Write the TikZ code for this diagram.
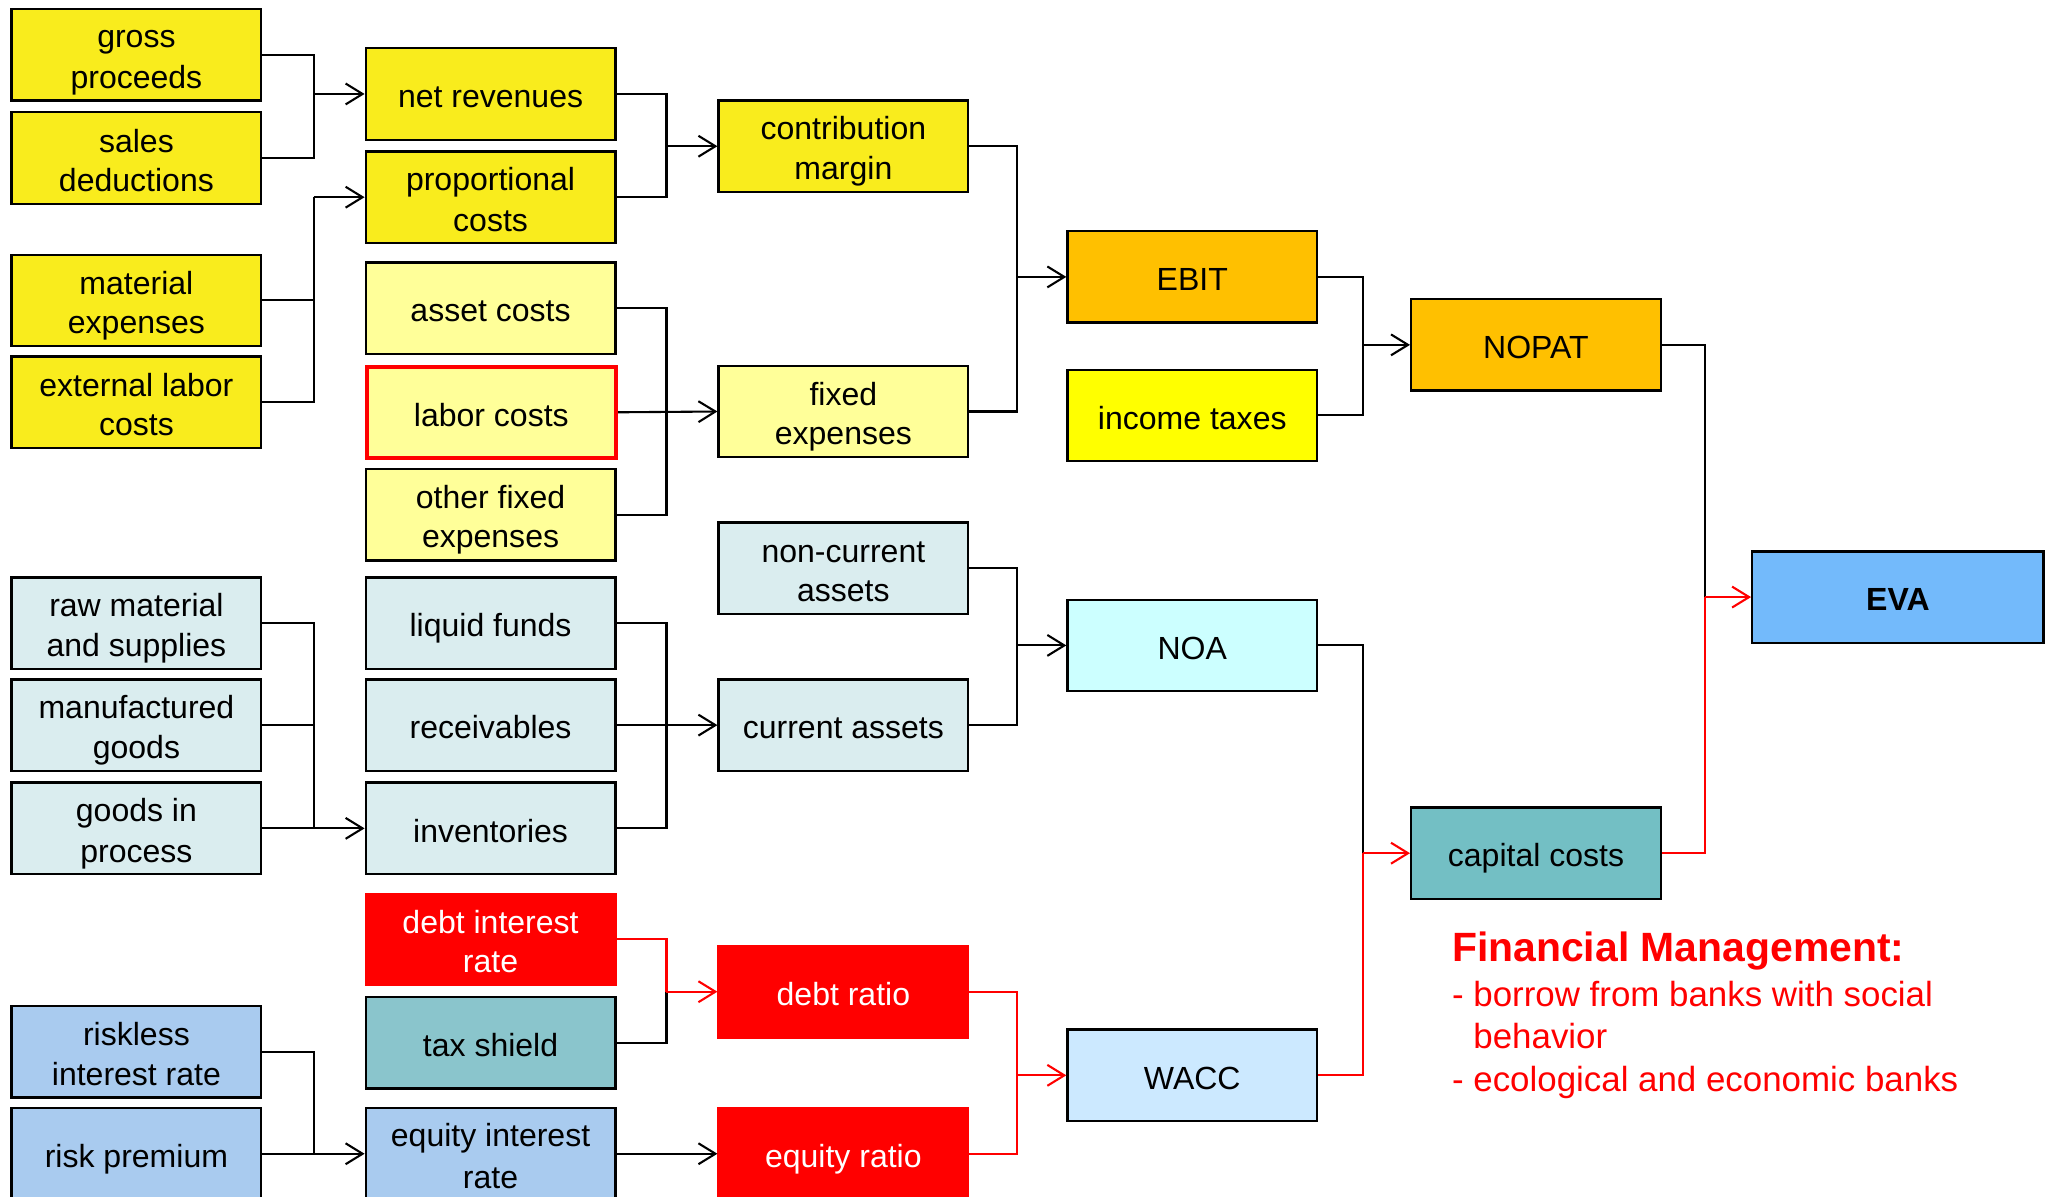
\documentclass[tikz,border=0pt]{standalone}
\usepackage{fontspec}
\setmainfont{Liberation Sans}
\usetikzlibrary{arrows.meta,calc}

\definecolor{yel}{HTML}{F9EC1D}
\definecolor{lyel}{HTML}{FFFF99}
\definecolor{orng}{HTML}{FFC000}
\definecolor{ylw}{HTML}{FFFF00}
\definecolor{gblue}{HTML}{DAEDEF}
\definecolor{cyanl}{HTML}{CCFFFF}
\definecolor{waccb}{HTML}{CCE9FF}
\definecolor{capc}{HTML}{73BFC4}
\definecolor{taxs}{HTML}{8AC5CC}
\definecolor{sky}{HTML}{A9CBEF}
\definecolor{evab}{HTML}{73BAFB}
\definecolor{fmred}{HTML}{FF0000}

% fixed line height for box texts, so one- and two-line labels sit alike
\newcommand{\lblstrut}{\rule[-4.5pt]{0pt}{30pt}}
\newcommand{\lbl}[1]{\lblstrut#1\lblstrut}
\newcommand{\lbltwo}[2]{\lblstrut#1\\#2\lblstrut}

\tikzset{
  box/.style={draw=black, line width=1.8pt, anchor=north west,
    minimum width=191pt, minimum height=70pt, inner sep=0pt, align=center,
    font=\fontsize{24.5pt}{30pt}\selectfont},
  redbox/.style={box, draw=fmred, fill=fmred, text=white},
  conn/.style={line width=1.6pt, draw=black},
  rconn/.style={line width=1.6pt, draw=fmred},
  arr/.style={conn, -{Straight Barb[length=13pt,width=16pt,line width=1.6pt]}},
  rarr/.style={rconn, -{Straight Barb[length=13pt,width=16pt,line width=1.6pt]}},
  note/.style={anchor=base west, text=fmred, inner sep=0pt,
    font=\fontsize{26.7pt}{33pt}\selectfont},
}

\begin{document}
\begin{tikzpicture}[x=1pt,y=-1pt]
\useasboundingbox (0,0) rectangle (1568,916);

% first column: inputs
\node[box, fill=yel]   (gp)  at (8,6)   {\lbltwo{gross}{proceeds}};
\node[box, fill=yel]   (sd)  at (8,85)  {\lbltwo{sales}{deductions}};
\node[box, fill=yel]   (me)  at (8,194) {\lbltwo{material}{expenses}};
\node[box, fill=yel]   (el)  at (8,272) {\lbltwo{external labor}{costs}};
\node[box, fill=gblue] (rm)  at (8,441) {\lbltwo{raw material}{and supplies}};
\node[box, fill=gblue] (mg)  at (8,519) {\lbltwo{manufactured}{goods}};
\node[box, fill=gblue] (gip) at (8,598) {\lbltwo{goods in}{process}};
\node[box, fill=sky]   (rir) at (8,769) {\lbltwo{riskless}{interest rate}};
\node[box, fill=sky]   (rp)  at (8,847) {\lbl{risk premium}};

% second column
\node[box, fill=yel]   (nr)  at (279,36)  {\lbl{net revenues}};
\node[box, fill=yel]   (pc)  at (279,115) {\lbltwo{proportional}{costs}};
\node[box, fill=lyel]  (ac)  at (279,200) {\lbl{asset costs}};
\node[box, fill=lyel, draw=fmred, line width=3pt] (lc) at (279,279) {\lbl{labor costs}};
\node[box, fill=lyel]  (ofe) at (279,358) {\lbltwo{other fixed}{expenses}};
\node[box, fill=gblue] (lf)  at (279,441) {\lbl{liquid funds}};
\node[box, fill=gblue] (rc)  at (279,519) {\lbl{receivables}};
\node[box, fill=gblue] (inv) at (279,598) {\lbl{inventories}};
\node[redbox]          (dir) at (279,683) {\lbltwo{debt interest}{rate}};
\node[box, fill=taxs]  (ts)  at (279,762) {\lbl{tax shield}};
\node[box, fill=sky]   (eir) at (279,847) {\lbltwo{equity interest}{rate}};

% third column
\node[box, fill=yel]   (cm)  at (549,76)  {\lbltwo{contribution}{margin}};
\node[box, fill=lyel]  (fe)  at (549,279) {\lbltwo{fixed}{expenses}};
\node[box, fill=gblue] (nca) at (549,399) {\lbltwo{non-current}{assets}};
\node[box, fill=gblue] (ca)  at (549,519) {\lbl{current assets}};
\node[redbox]          (dr)  at (549,723) {\lbl{debt ratio}};
\node[redbox]          (er)  at (549,847) {\lbl{equity ratio}};

% fourth column
\node[box, fill=orng]  (ebit) at (816,176) {\lbl{EBIT}};
\node[box, fill=ylw]   (it)   at (816,282) {\lbl{income taxes}};
\node[box, fill=cyanl] (noa)  at (816,458) {\lbl{NOA}};
\node[box, fill=waccb] (wacc) at (816,787) {\lbl{WACC}};

% fifth column
\node[box, fill=orng]  (nopat) at (1079,228) {\lbl{NOPAT}};
\node[box, fill=capc]  (cc)    at (1079,617) {\lbl{capital costs}};

% result
\node[box, fill=evab, minimum width=223pt, font=\fontsize{24.5pt}{30pt}\selectfont\bfseries] (eva) at (1340,421) {\lbl{EVA}};

% junction points in front of each target box
\path (nr.west)    ++(-39,0) coordinate (jnr);
\path (pc.west)    ++(-39,0) coordinate (jpc);
\path (inv.west)   ++(-39,0) coordinate (jinv);
\path (eir.west)   ++(-39,0) coordinate (jeir);
\path (cm.west)    ++(-39,0) coordinate (jcm);
\path (fe.west)    ++(-39,0) coordinate (jfe);
\path (ca.west)    ++(-39,0) coordinate (jca);
\path (dr.west)    ++(-39,0) coordinate (jdr);
\path (ebit.west)  ++(-38,0) coordinate (jebit);
\path (noa.west)   ++(-38,0) coordinate (jnoa);
\path (wacc.west)  ++(-38,0) coordinate (jwacc);
\path (nopat.west) ++(-36,0) coordinate (jnopat);
\path (cc.west)    ++(-36,0) coordinate (jcc);
\path (eva.west)   ++(-35,0) coordinate (jeva);

% net revenues
\draw[conn] (gp.east) -| (jnr);
\draw[conn] (sd.east) -| (jnr);
\draw[arr] (jnr) -- (nr.west);
% proportional costs
\draw[conn] (me.east) -| (jpc);
\draw[conn] (el.east) -| (jpc);
\draw[arr] (jpc) -- (pc.west);
% inventories
\draw[conn] (rm.east) -| (jinv);
\draw[conn] (mg.east) -| (jinv);
\draw[arr] (gip.east) -- (inv.west);
% equity interest rate
\draw[conn] (rir.east) -| (jeir);
\draw[arr] (rp.east) -- (eir.west);
% contribution margin
\draw[conn] (nr.east) -| (jcm);
\draw[conn] (pc.east) -| (jcm);
\draw[arr] (jcm) -- (cm.west);
% fixed expenses
\draw[conn] (ac.east) -| (jfe);
\draw[conn] (ofe.east) -| (jfe);
\draw[arr] (lc.east) -- (fe.west);
% current assets
\draw[conn] (lf.east) -| (jca);
\draw[conn] (inv.east) -| (jca);
\draw[arr] (rc.east) -- (ca.west);
% debt ratio
\draw[rconn] (dir.east) -| (jdr);
\draw[conn] (ts.east) -| (jdr);
\draw[rarr] (jdr) -- (dr.west);
% equity ratio
\draw[arr] (eir.east) -- (er.west);
% EBIT
\draw[conn] (cm.east) -| (jebit);
\draw[conn] (fe.east) -| (jebit);
\draw[arr] (jebit) -- (ebit.west);
% NOA
\draw[conn] (nca.east) -| (jnoa);
\draw[conn] (ca.east) -| (jnoa);
\draw[arr] (jnoa) -- (noa.west);
% WACC
\draw[rconn] (dr.east) -| (jwacc);
\draw[rconn] (er.east) -| (jwacc);
\draw[rarr] (jwacc) -- (wacc.west);
% NOPAT
\draw[conn] (ebit.east) -| (jnopat);
\draw[conn] (it.east) -| (jnopat);
\draw[arr] (jnopat) -- (nopat.west);
% capital costs
\draw[conn] (noa.east) -| (jcc);
\draw[rconn] (wacc.east) -| (jcc);
\draw[rarr] (jcc) -- (cc.west);
% EVA
\draw[conn] (nopat.east) -| (jeva);
\draw[rconn] (cc.east) -| (jeva);
\draw[rarr] (jeva) -- (eva.west);

% note on financial management
\node[note, font=\fontsize{31.3pt}{33pt}\selectfont\bfseries] (fmt) at (1111,736) {Financial Management:};
\node[note] (fm1) at (1111,770) {- borrow from banks with social};
\node[note] (fm2) at (1111,802) {\hphantom{- }behavior};
\node[note] (fm3) at (1111,835) {- ecological and economic banks};
\end{tikzpicture}
\end{document}
